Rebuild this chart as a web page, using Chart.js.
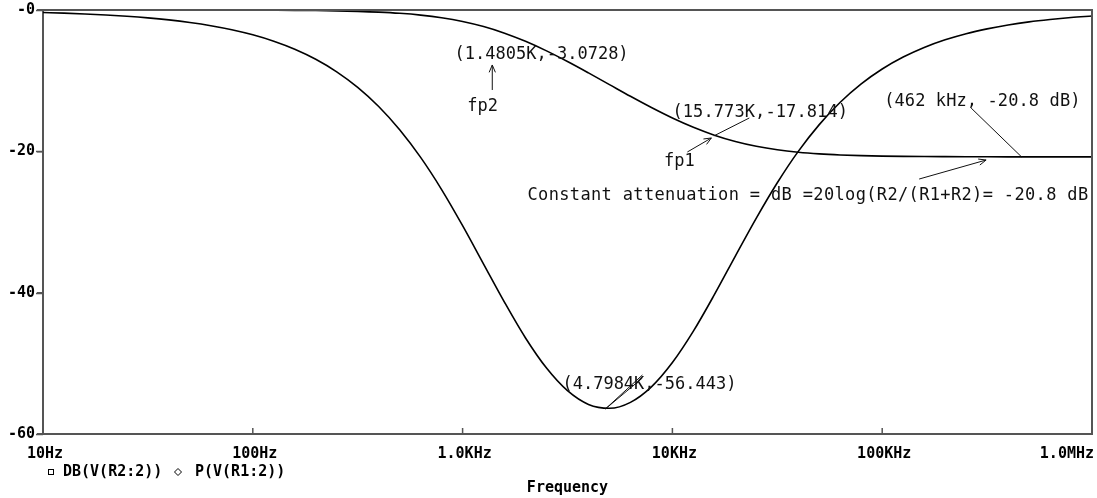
<!DOCTYPE html>
<html>
<head>
<meta charset="utf-8">
<style>
  html, body { margin: 0; padding: 0; background: #fff; }
  #wrap { width: 1097px; height: 498px; }
</style>
<script src="https://cdn.jsdelivr.net/npm/chart.js@4.4.1/dist/chart.umd.min.js"></script>
</head>
<body>
<div id="wrap"><canvas id="plot" width="1097" height="498"></canvas></div>
<script>
// Valores (frequência em Hz)
const freqs = [
    10, 12.59, 15.85, 19.95, 25.12, 31.62, 39.81, 50.12, 63.1, 79.43,
    100, 125.9, 158.5, 199.5, 251.2, 316.2, 398.1, 501.2, 631, 794.3,
    1000, 1259, 1585, 1995, 2512, 3162, 3981, 5012, 6310, 7943,
    10000, 12589, 15849, 19953, 25119, 31623, 39811, 50119, 63096, 79433,
    100000, 125893, 158489, 199526, 251189, 316228, 398107, 501187, 630957, 794328, 1000000
];

// DB(V(R2:2))
const magDb = [
    0, 0, 0, 0, -0.001, -0.002, -0.003, -0.005, -0.008, -0.012,
    -0.019, -0.031, -0.049, -0.078, -0.122, -0.192, -0.301, -0.467, -0.719, -1.089,
    -1.617, -2.339, -3.277, -4.433, -5.785, -7.294, -8.903, -10.56, -12.216, -13.806,
    -15.287, -16.60, -17.717, -18.608, -19.289, -19.785, -20.126, -20.356, -20.509, -20.609,
    -20.674, -20.714, -20.74, -20.755, -20.767, -20.775, -20.779, -20.782, -20.783, -20.784, -20.785
];

// P(V(R1:2))
const phaseDeg = [
    -0.352, -0.443, -0.558, -0.702, -0.884, -1.112, -1.400, -1.763, -2.218, -2.791,
    -3.512, -4.418, -5.552, -6.971, -8.744, -10.945, -13.65, -16.94, -20.86, -25.41,
    -30.52, -35.95, -41.37, -46.41, -50.67, -53.87, -55.81, -56.36, -55.52, -53.33,
    -49.89, -45.45, -40.29, -34.83, -29.45, -24.45, -20.01, -16.22, -13.06, -10.46,
    -8.35, -6.66, -5.30, -4.22, -3.35, -2.67, -2.12, -1.68, -1.34, -1.06, -0.84
];

const xTicks = [10, 100, 1000, 10000, 100000, 1000000];
const xLabels = ['10Hz', '100Hz', '1.0KHz', '10KHz', '100KHz', '1.0MHz'];
const yTicks = [-60, -40, -20, 0];
const yLabels = ['-60', '-40', '-20', '-0'];
const seriesNames = ['DB(V(R2:2))', 'P(V(R1:2))'];
const xTitle = 'Frequency';

// Textos das anotações (posição em coordenadas de dados: freq, valor)
const noteTexts = ['(1.4805K,-3.0728)', 'fp2', '(15.773K,-17.814)', 'fp1', '(462 kHz, -20.8 dB)',
    'Constant attenuation = dB =20log(R2/(R1+R2)= -20.8 dB', '(4.7984K,-56.443)'];
const noteFreqs = [916, 1245, 10000, 10798, 102200, 2039, 2992];
const noteVals = [-6.37, -13.73, -14.58, -21.51, -13.02, -26.32, -53.07];
const noteAlign = ['left', 'center', 'left', 'center', 'left', 'left', 'left'];
const noteSpacing = [0, 0, 0.1, 0, 0.1, 0.35, 0];

// Linhas de chamada: [f1, v1, f2, v2, seta?, dupla?]
const leaders = [
    [1385, -11.32, 1385, -7.78, true, false],
    [23260, -15.28, 15773, -17.814, false, false],
    [11786, -20.09, 15337, -18.11, true, false],
    [265300, -13.87, 462000, -20.8, false, false],
    [150000, -23.92, 312800, -21.23, true, false],
    [7194, -51.65, 4798.4, -56.443, false, true]
];

const tickFont = { family: "'DejaVu Sans Mono', monospace", size: 15, weight: 'bold', lineHeight: 1 };
const axisGray = '#555';

function arrowHead(ctx, x1, y1, x2, y2) {
    const ang = Math.atan2(y2 - y1, x2 - x1);
    const len = 8;
    ctx.beginPath();
    ctx.moveTo(x2 - len * Math.cos(ang - 0.4), y2 - len * Math.sin(ang - 0.4));
    ctx.lineTo(x2, y2);
    ctx.lineTo(x2 - len * Math.cos(ang + 0.4), y2 - len * Math.sin(ang + 0.4));
    ctx.stroke();
}

const decorPlugin = {
    id: 'decor',
    afterDraw(chart) {
        const { ctx, chartArea: area, scales: { x, y } } = chart;
        ctx.save();

        // borda superior e direita
        ctx.strokeStyle = axisGray;
        ctx.lineWidth = 2;
        ctx.beginPath();
        ctx.moveTo(area.left, area.top);
        ctx.lineTo(area.right, area.top);
        ctx.lineTo(area.right, area.bottom);
        ctx.stroke();

        // marcas do eixo y (para fora)
        ctx.lineWidth = 1.5;
        yTicks.forEach(v => {
            const py = Math.round(y.getPixelForValue(v)) + 0.5;
            ctx.beginPath();
            ctx.moveTo(area.left - 7, py);
            ctx.lineTo(area.left, py);
            ctx.stroke();
        });

        // marcas do eixo x (para dentro) e rótulos
        ctx.font = `bold ${tickFont.size}px ${tickFont.family}`;
        ctx.fillStyle = '#000';
        ctx.textBaseline = 'middle';
        xTicks.forEach((v, i) => {
            const px = x.getPixelForValue(v);
            ctx.beginPath();
            ctx.moveTo(px, area.bottom);
            ctx.lineTo(px, area.bottom - 6);
            ctx.stroke();
            const w = ctx.measureText(xLabels[i]).width;
            let lx = px - w / 2;
            if (lx + w > area.right) lx = area.right - w;
            ctx.textAlign = 'left';
            ctx.fillText(xLabels[i], lx + 2, area.bottom + 20);
        });

        // legenda
        const ly = area.bottom + 38;
        ctx.lineWidth = 1;
        ctx.strokeStyle = '#000';
        ctx.strokeRect(area.left + 5.5, ly - 2.5, 5, 5);
        ctx.textAlign = 'left';
        ctx.fillText(seriesNames[0], area.left + 20, ly);
        const dx = area.left + 135;
        ctx.beginPath();
        ctx.moveTo(dx, ly - 3.5); ctx.lineTo(dx + 3.5, ly); ctx.lineTo(dx, ly + 3.5); ctx.lineTo(dx - 3.5, ly); ctx.closePath();
        ctx.stroke();
        ctx.fillText(seriesNames[1], area.left + 152, ly);

        // título do eixo x
        ctx.textAlign = 'center';
        ctx.fillText(xTitle, (area.left + area.right) / 2, area.bottom + 54);

        // anotações
        ctx.font = "17px 'DejaVu Sans Mono', monospace";
        ctx.fillStyle = '#111';
        noteTexts.forEach((t, i) => {
            ctx.letterSpacing = noteSpacing[i] + 'px';
            ctx.textAlign = noteAlign[i];
            ctx.fillText(t, x.getPixelForValue(noteFreqs[i]), y.getPixelForValue(noteVals[i]));
        });
        ctx.letterSpacing = '0px';

        ctx.strokeStyle = '#111';
        ctx.lineWidth = 1;
        leaders.forEach(([f1, v1, f2, v2, head, dbl]) => {
            const x1 = x.getPixelForValue(f1), y1 = y.getPixelForValue(v1);
            const x2 = x.getPixelForValue(f2), y2 = y.getPixelForValue(v2);
            ctx.beginPath();
            ctx.moveTo(x1, y1);
            ctx.lineTo(x2, y2);
            if (dbl) {
                ctx.moveTo(x1, y1 + 3);
                ctx.lineTo(x2, y2);
            }
            ctx.stroke();
            if (head) arrowHead(ctx, x1, y1, x2, y2);
        });

        ctx.restore();
    }
};

const pts = (vals) => freqs.map((f, i) => ({ x: f, y: vals[i] }));

new Chart(document.getElementById('plot').getContext('2d'), {
    type: 'line',
    data: {
        datasets: [
            { label: seriesNames[0], data: pts(magDb), borderColor: '#000', borderWidth: 1.6, pointRadius: 0, fill: false, cubicInterpolationMode: 'monotone' },
            { label: seriesNames[1], data: pts(phaseDeg), borderColor: '#000', borderWidth: 1.6, pointRadius: 0, fill: false, cubicInterpolationMode: 'monotone' }
        ]
    },
    options: {
        responsive: false,
        animation: false,
        devicePixelRatio: 1,
        layout: { padding: { top: 10, right: 5, left: 0, bottom: 0 }, autoPadding: false },
        plugins: { legend: { display: false }, tooltip: { enabled: false } },
        scales: {
            x: {
                type: 'logarithmic',
                min: 10,
                max: 1000000,
                afterBuildTicks: s => { s.ticks = xTicks.map(v => ({ value: v })); },
                afterFit: s => { s.height = 64; },
                ticks: { display: false },
                grid: { display: false },
                border: { display: true, color: axisGray, width: 2 }
            },
            y: {
                min: -60,
                max: 0,
                afterBuildTicks: s => { s.ticks = yTicks.map(v => ({ value: v })); },
                afterFit: s => { s.width = 43; },
                ticks: {
                    callback: v => yLabels[yTicks.indexOf(v)],
                    font: tickFont,
                    color: '#000',
                    padding: 2
                },
                grid: { drawOnChartArea: false, drawTicks: true, tickLength: 6, color: axisGray, lineWidth: 1.5 },
                border: { display: true, color: axisGray, width: 2 }
            }
        }
    },
    plugins: [decorPlugin]
});
</script>
</body>
</html>
